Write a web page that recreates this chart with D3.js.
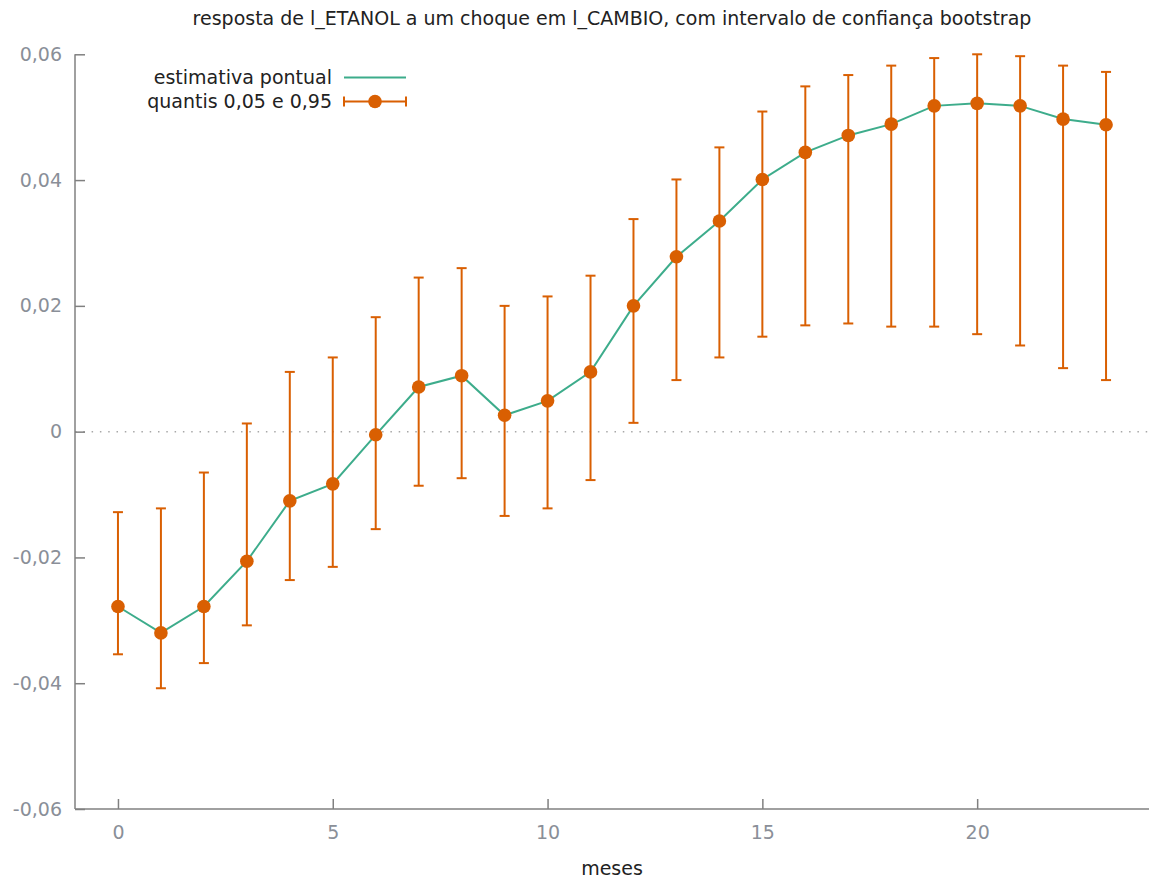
<!DOCTYPE html>
<html>
<head>
<meta charset="utf-8">
<script src="https://cdn.jsdelivr.net/npm/d3@7"></script>
<style>
  body { margin: 0; background: #fff; }
  text { font-family: "DejaVu Sans", sans-serif; }
</style>
</head>
<body>
<div id="chart"></div>
<script>
// data
var months = [0, 1, 2, 3, 4, 5, 6, 7, 8, 9, 10, 11, 12, 13, 14, 15, 16, 17, 18, 19, 20, 21, 22, 23];
var estimate = [-0.0278, -0.0320, -0.0278, -0.0206, -0.0110, -0.0083, -0.0005, 0.0071, 0.0089, 0.0026,
  0.0049, 0.0095, 0.0200, 0.0278, 0.0335, 0.0401, 0.0444, 0.0471, 0.0489, 0.0518,
  0.0522, 0.0518, 0.0497, 0.0488];
var lower = [-0.0354, -0.0408, -0.0368, -0.0308, -0.0236, -0.0215, -0.0155, -0.0086, -0.0074, -0.0134,
  -0.0122, -0.0077, 0.0014, 0.0082, 0.0118, 0.0151, 0.0169, 0.0172, 0.0167, 0.0167,
  0.0155, 0.0137, 0.0101, 0.0082];
var upper = [-0.0128, -0.0122, -0.0065, 0.0013, 0.0095, 0.0118, 0.0182, 0.0245, 0.0260, 0.0200,
  0.0215, 0.0248, 0.0338, 0.0401, 0.0452, 0.0509, 0.0549, 0.0567, 0.0582, 0.0594,
  0.0600, 0.0597, 0.0582, 0.0572];
var xTicks = [0, 5, 10, 15, 20];
var yTicks = [-0.06, -0.04, -0.02, 0, 0.02, 0.04, 0.06];
var seriesNames = ["estimativa pontual", "quantis 0,05 e 0,95"];

var green = "#1b9e77", orange = "#d95f02", axisCol = "#808080", tickText = "#8a8f98", textCol = "#222";
var fs = 19;

var W = 1150, H = 880;
var svg = d3.select("#chart").append("svg")
  .attr("width", W)
  .attr("height", H);

var x = d3.scaleLinear().domain([-1, 24]).range([75, 1149]);
var y = d3.scaleLinear().domain([-0.06, 0.06]).range([809, 54.3]);

var pt = d3.formatLocale({ decimal: ",", thousands: ".", grouping: [3], currency: ["", ""], minus: "-" });
var f2 = pt.format(".2f");

// zero line
svg.append("line")
  .attr("x1", x(-1)).attr("x2", x(24))
  .attr("y1", y(0)).attr("y2", y(0))
  .attr("stroke", "#a8a8a8")
  .attr("stroke-width", 1.5)
  .attr("stroke-dasharray", "1.5,6.8");

// axes (gnuplot style: ticks pointing inward)
var xAxis = d3.axisBottom(x).tickValues(xTicks).tickSize(-10).tickPadding(17).tickFormat(d3.format("d"));
var gx = svg.append("g").attr("transform", "translate(0," + y(-0.06) + ")").call(xAxis);

var yAxis = d3.axisLeft(y).tickValues(yTicks).tickSize(-10).tickPadding(13)
  .tickFormat(function (d) { return d === 0 ? "0" : f2(d); });
var gy = svg.append("g").attr("transform", "translate(" + x(-1) + ",0)").call(yAxis);

[gx, gy].forEach(function (g) {
  g.select(".domain").attr("stroke", axisCol).attr("stroke-width", 1.5);
  g.selectAll(".tick line").attr("stroke", axisCol).attr("stroke-width", 1.5);
  g.selectAll(".tick text").attr("fill", tickText).attr("font-size", fs)
    .attr("font-family", "DejaVu Sans");
});
gx.select(".domain").attr("d", "M" + x(-1) + ",0H" + x(24));
gy.select(".domain").attr("d", "M0," + y(-0.06) + "V" + y(0.06));

// error bars
var rows = months.map(function (m, i) {
  return { m: m, v: estimate[i], lo: lower[i], hi: upper[i] };
});
var bars = svg.append("g").attr("stroke", orange).attr("stroke-width", 2);
bars.selectAll(".bar").data(rows).enter().append("line")
  .attr("x1", function (d) { return x(d.m); })
  .attr("x2", function (d) { return x(d.m); })
  .attr("y1", function (d) { return y(d.lo); })
  .attr("y2", function (d) { return y(d.hi); });
bars.selectAll(".capLo").data(rows).enter().append("line")
  .attr("x1", function (d) { return x(d.m) - 5; })
  .attr("x2", function (d) { return x(d.m) + 5; })
  .attr("y1", function (d) { return y(d.lo); })
  .attr("y2", function (d) { return y(d.lo); });
bars.selectAll(".capHi").data(rows).enter().append("line")
  .attr("x1", function (d) { return x(d.m) - 5; })
  .attr("x2", function (d) { return x(d.m) + 5; })
  .attr("y1", function (d) { return y(d.hi); })
  .attr("y2", function (d) { return y(d.hi); });

// estimate line
svg.append("path")
  .datum(rows)
  .attr("fill", "none")
  .attr("stroke", green)
  .attr("stroke-width", 2)
  .attr("opacity", 0.85)
  .attr("d", d3.line()
    .x(function (d) { return x(d.m); })
    .y(function (d) { return y(d.v); }));

// points
svg.append("g").selectAll("circle").data(rows).enter().append("circle")
  .attr("cx", function (d) { return x(d.m); })
  .attr("cy", function (d) { return y(d.v); })
  .attr("r", 6.8)
  .attr("fill", orange);

// title and x label
svg.append("text")
  .attr("x", 612).attr("y", 25)
  .attr("text-anchor", "middle")
  .attr("fill", textCol)
  .attr("font-size", fs)
  .text("resposta de l_ETANOL a um choque em l_CAMBIO, com intervalo de confiança bootstrap");

svg.append("text")
  .attr("x", 612).attr("y", 875)
  .attr("text-anchor", "middle")
  .attr("fill", textCol)
  .attr("font-size", fs)
  .text("meses");

// legend
var leg = svg.append("g");
leg.selectAll("text").data(seriesNames).enter().append("text")
  .attr("x", 332)
  .attr("y", function (d, i) { return 83.5 + i * 24; })
  .attr("text-anchor", "end")
  .attr("fill", textCol)
  .attr("font-size", fs)
  .text(function (d) { return d; });
leg.append("line")
  .attr("x1", 344).attr("x2", 406).attr("y1", 77.5).attr("y2", 77.5)
  .attr("stroke", green).attr("stroke-width", 2).attr("opacity", 0.85);
var lg = leg.append("g").attr("stroke", orange).attr("stroke-width", 2);
lg.append("line").attr("x1", 344).attr("x2", 406).attr("y1", 101.5).attr("y2", 101.5);
lg.append("line").attr("x1", 344).attr("x2", 344).attr("y1", 96.5).attr("y2", 106.5);
lg.append("line").attr("x1", 406).attr("x2", 406).attr("y1", 96.5).attr("y2", 106.5);
leg.append("circle").attr("cx", 375).attr("cy", 101.5).attr("r", 6.8).attr("fill", orange);
</script>
</body>
</html>
